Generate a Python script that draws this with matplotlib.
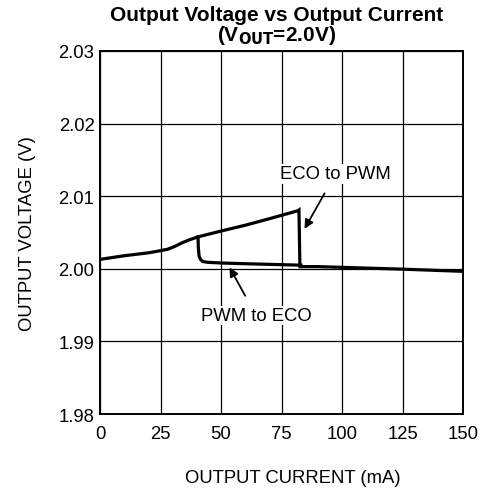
import matplotlib.pyplot as plt

plt.rcParams['font.family'] = ['Liberation Sans', 'DejaVu Sans']

# ECO to PWM branch (rising current)
eco_pwm_i = [0, 10, 20, 25, 28, 31, 34, 37, 40.5, 50, 60, 70, 81.8, 82.2, 82.6, 90, 100, 125, 150]
eco_pwm_v = [2.0013, 2.0018, 2.0022, 2.0025, 2.0027, 2.0031, 2.0036, 2.0040, 2.0044, 2.0052, 2.0060, 2.0069, 2.0080, 2.0081, 2.0003, 2.0003, 2.0002, 1.99995, 1.99965]

# PWM to ECO branch (falling current)
pwm_eco_i = [40.5, 40.6, 40.9, 41.5, 42.5, 44.3, 50, 60, 83]
pwm_eco_v = [2.0044, 2.0030, 2.0018, 2.0013, 2.0010, 2.0009, 2.0008, 2.0007, 2.0005]

xticks = [0, 25, 50, 75, 100, 125, 150]
yticks = [1.98, 1.99, 2.00, 2.01, 2.02, 2.03]

fig = plt.figure(figsize=(4.81, 4.89), dpi=100)
ax = fig.add_axes([0.208, 0.1513, 0.7546, 0.7424])

ax.plot(eco_pwm_i, eco_pwm_v, color='black', lw=2.3, solid_joinstyle='miter')
ax.plot(pwm_eco_i, pwm_eco_v, color='black', lw=2.3)

ax.set_xlim(0, 150)
ax.set_ylim(1.98, 2.03)
ax.set_xticks(xticks)
ax.set_xticklabels([str(t) for t in xticks])
ax.set_yticks(yticks)
ax.set_yticklabels([f'{t:.2f}' for t in yticks])
ax.tick_params(length=0, labelsize=13.3, pad=4)
ax.tick_params(axis='x', pad=8)
ax.grid(True, color='black', lw=0.9)
for s in ax.spines.values():
    s.set_linewidth(1.4)

ax.set_xlabel('OUTPUT CURRENT (mA)', fontsize=13.3, labelpad=19, x=0.53)
ax.set_ylabel('OUTPUT VOLTAGE (V)', fontsize=13.3, labelpad=16)

ax.annotate('ECO to PWM', xy=(84.5, 2.0055), xytext=(97.4, 2.0131),
            ha='center', va='center', fontsize=13.3,
            bbox=dict(facecolor='white', edgecolor='none', pad=1),
            arrowprops=dict(arrowstyle='-|>', color='black', lw=1.3, shrinkA=8, shrinkB=0))
ax.annotate('PWM to ECO', xy=(53.5, 2.0002), xytext=(64.5, 1.99357),
            ha='center', va='center', fontsize=13.3,
            bbox=dict(facecolor='white', edgecolor='none', pad=1),
            arrowprops=dict(arrowstyle='-|>', color='black', lw=1.3, shrinkA=8, shrinkB=0))

fig.text(0.575, 0.968, 'Output Voltage vs Output Current', ha='center', va='center',
         fontsize=15, fontweight='bold')
fig.text(0.575, 0.928, r'(V$_{\mathbf{OUT}}$=2.0V)', ha='center', va='center',
         fontsize=15, fontweight='bold')

fig.savefig('out.png', dpi=100)
